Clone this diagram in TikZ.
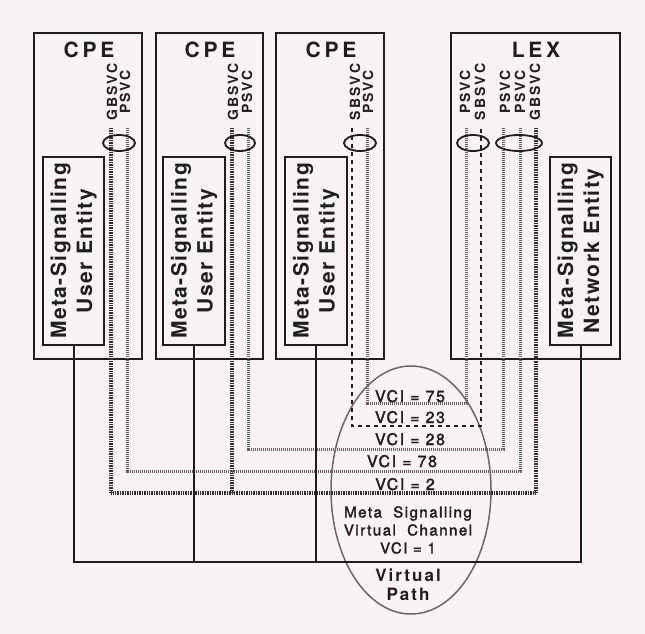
\documentclass[tikz,border=0pt]{standalone}
\usepackage{fontspec}
\setmainfont{TeX Gyre Heros}
\newfontfamily\titlefont[LetterSpace=18]{TeX Gyre Heros}
\newfontfamily\chfont[LetterSpace=16]{TeX Gyre Heros}
\newfontfamily\entfont[LetterSpace=7]{TeX Gyre Heros}
\newfontfamily\vcifont[LetterSpace=10,FakeBold=2]{TeX Gyre Heros}
\newfontfamily\vpfont[LetterSpace=12]{TeX Gyre Heros}
\usetikzlibrary{shapes.geometric}
\definecolor{paper}{RGB}{247,244,243}
\definecolor{ink}{RGB}{30,30,30}
\definecolor{vpgray}{RGB}{105,105,105}
\begin{document}
\begin{tikzpicture}[x=1pt,y=-1pt,
  outerbox/.style={draw=ink, line width=2pt, inner sep=0pt},
  innerbox/.style={draw=ink, line width=2pt, inner sep=0pt, minimum height=188pt},
  titletext/.style={font=\titlefont\bfseries\fontsize{21}{24}\selectfont, text=ink, inner sep=0pt},
  chlabel/.style={rotate=90, font=\chfont\bfseries\fontsize{14}{14}\selectfont, text=ink, inner sep=0pt},
  enttext/.style={rotate=90, align=center, font=\entfont\bfseries\fontsize{21}{26}\selectfont, text=ink, inner sep=0pt},
  vcilabel/.style={anchor=base, font=\vcifont\fontsize{16}{18}\selectfont, text=ink, inner sep=0pt},
  chring/.style={draw=ink, ellipse, line width=1.8pt, inner sep=0pt, minimum height=16pt},
  psvc/.style={draw=black!62, line width=3pt, dash pattern=on 1.2pt off 0.8pt},
  gbsvc/.style={draw=black!82, line width=3.2pt, dash pattern=on 0.9pt off 0.8pt},
  sbsvc/.style={draw=ink, line width=2.4pt, dash pattern=on 4pt off 4pt},
  bus/.style={draw=ink, line width=2pt},
]
\path[use as bounding box, fill=paper] (0,0) rectangle (645,634);

% Virtual path ellipse
\node[draw=vpgray, line width=1.5pt, ellipse, minimum width=160pt, minimum height=248pt, inner sep=0pt] (vp) at (411,490) {};

% Outer boxes
\node[outerbox, minimum width=108pt, minimum height=326pt] (cpe1) at (88,196) {};
\node[outerbox, minimum width=107pt, minimum height=326pt] (cpe2) at (209.5,196) {};
\node[outerbox, minimum width=108pt, minimum height=326pt] (cpe3) at (330,196) {};
\node[outerbox, minimum width=169pt, minimum height=326pt] (lex) at (535.5,196) {};

% Titles
\node[titletext] (t1) at (89,50) {CPE};
\node[titletext] (t2) at (210,50) {CPE};
\node[titletext] (t3) at (331,50) {CPE};
\node[titletext] (t4) at (536,50) {LEX};

% Inner boxes
\node[innerbox, minimum width=61pt] (in1) at (73.5,251) {};
\node[innerbox, minimum width=62pt] (in2) at (194,251) {};
\node[innerbox, minimum width=62pt] (in3) at (316,251) {};
\node[innerbox, minimum width=61pt] (in4) at (580.5,251) {};
\node[enttext] (e1) at (in1.center) {Meta-Signalling\\User Entity};
\node[enttext] (e2) at (in2.center) {Meta-Signalling\\User Entity};
\node[enttext] (e3) at (in3.center) {Meta-Signalling\\User Entity};
\node[enttext] (e4) at (in4.center) {Meta-Signalling\\Network Entity};

% Channel labels
\node[chlabel] (l1g) at (112,92) {GBSVC};
\node[chlabel] (l1p) at (125,92) {PSVC};
\node[chlabel] (l2g) at (233,92) {GBSVC};
\node[chlabel] (l2p) at (247,92) {PSVC};
\node[chlabel] (l3s) at (355,92) {SBSVC};
\node[chlabel] (l3p) at (368,92) {PSVC};
\node[chlabel] (l4p1) at (465,92) {PSVC};
\node[chlabel] (l4s) at (480,92) {SBSVC};
\node[chlabel] (l4p2) at (505,92) {PSVC};
\node[chlabel] (l4p3) at (520,92) {PSVC};
\node[chlabel] (l4g) at (535,92) {GBSVC};

% channel line tops
\coordinate (c1g) at (111,128);
\coordinate (c1p) at (127,128);
\coordinate (c2g) at (232,128);
\coordinate (c2p) at (248,128);
\coordinate (c3s) at (352,128);
\coordinate (c3p) at (367,128);
\coordinate (c4p1) at (466,128);
\coordinate (c4s) at (481,128);
\coordinate (c4p2) at (503,128);
\coordinate (c4p3) at (520,128);
\coordinate (c4g) at (536,128);
% levels
\coordinate (y75) at (0,403);
\coordinate (y23) at (0,426);
\coordinate (y28) at (0,449);
\coordinate (y78) at (0,471);
\coordinate (y2) at (0,493);
\coordinate (ybus) at (0,562);

% Channel connections
\draw[gbsvc] (c1g) -- (c1g |- y2) -- (c4g |- y2) -- (c4g);
\draw[gbsvc] (c2g) -- (c2g |- y2);
\draw[psvc] (c1p) -- (c1p |- y78) -- (c4p3 |- y78) -- (c4p3);
\draw[psvc] (c2p) -- (c2p |- y28) -- (c4p2 |- y28) -- (c4p2);
\draw[psvc] (c3p) -- (c3p |- y75) -- (c4p1 |- y75) -- (c4p1);
\draw[sbsvc] (c3s) -- (c3s |- y23) -- (c4s |- y23) -- (c4s);

% Meta-signalling bus
\draw[bus] (in1.south) -- (in1.south |- ybus) -- (in4.south |- ybus) -- (in4.south);
\draw[bus] (in2.south) -- (in2.south |- ybus);
\draw[bus] (in3.south) -- (in3.south |- ybus);

% Rings
\node[chring, minimum width=32pt] (r1) at (119,143) {};
\node[chring, minimum width=30pt] (r2) at (240,143) {};
\node[chring, minimum width=32pt] (r3) at (360,143) {};
\node[chring, minimum width=32pt] (r4) at (473,143) {};
\node[chring, minimum width=46pt] (r5) at (519,143) {};

% VCI labels
\node[vcilabel] (v75) at (410,402) {VCI = 75};
\node[vcilabel] (v23) at (410,423) {VCI = 23};
\node[vcilabel] (v28) at (410,445) {VCI = 28};
\node[vcilabel] (v78) at (402,467) {VCI = 78};
\node[vcilabel] (v2) at (405,490) {VCI = 2};

% Ellipse texts
\node[align=center, font=\vcifont\fontsize{15}{18}\selectfont, text=ink, inner sep=0pt] (ms) at (408,530) {Meta\ \ Signalling\\Virtual\ \ Channel\\VCI = 1};
\node[align=center, font=\vpfont\bfseries\fontsize{17}{19}\selectfont, text=ink, inner sep=0pt] (vpt) at (408,585) {Virtual\\Path};
\end{tikzpicture}
\end{document}
